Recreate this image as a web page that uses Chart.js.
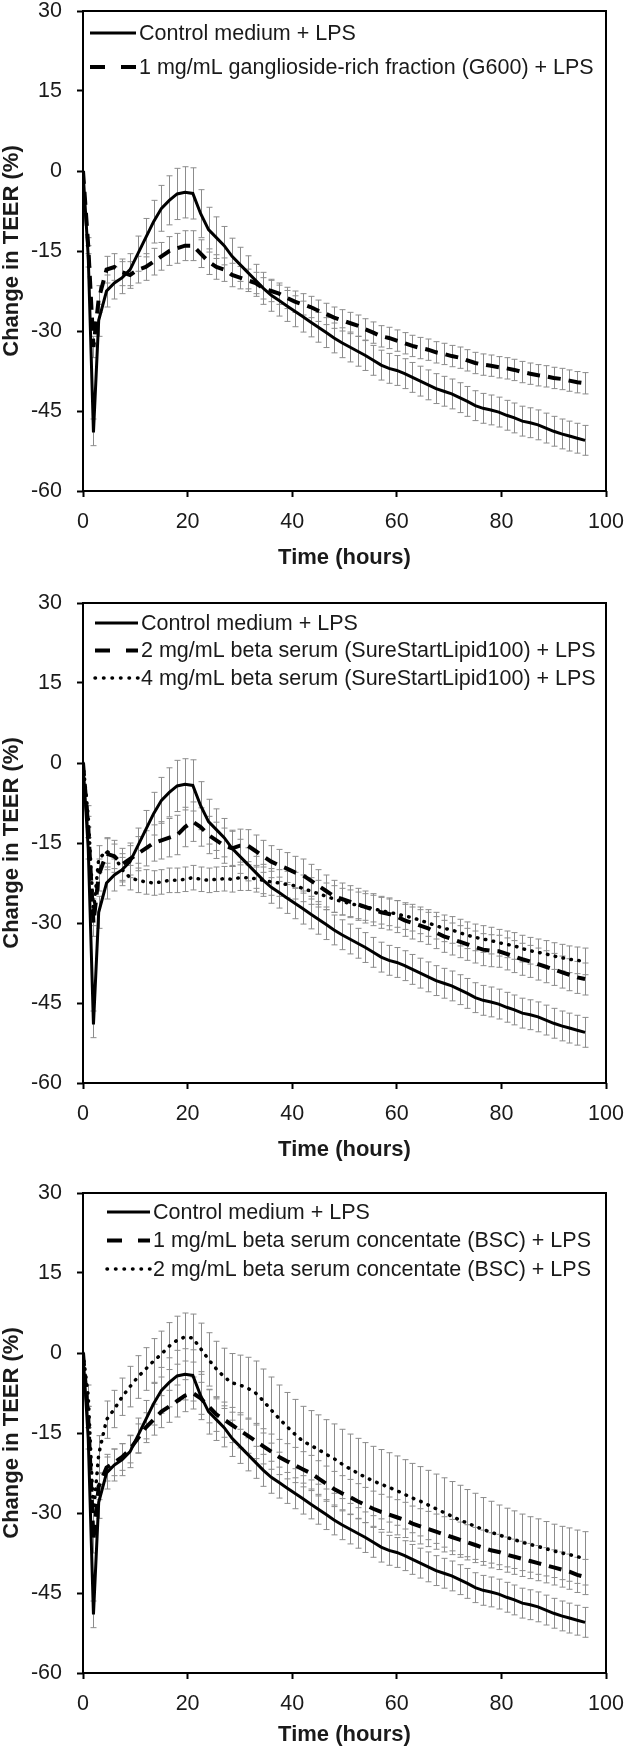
<!DOCTYPE html>
<html>
<head>
<meta charset="utf-8">
<script src="https://cdn.jsdelivr.net/npm/chart.js@4"></script>
<style>
  html, body { margin: 0; padding: 0; background: #fff; }
  #wrap { position: relative; width: 625px; height: 1748px; overflow: hidden; }
  canvas { position: absolute; left: 0; }
</style>
</head>
<body>
<div id="wrap">
  <canvas id="panel1" width="625" height="588" style="top:0px"></canvas>
  <canvas id="panel2" width="625" height="590" style="top:590px"></canvas>
  <canvas id="panel3" width="625" height="568" style="top:1180px"></canvas>
</div>
<script>
// time points (hours)
const times = [0, 1, 2, 3, 4.5, 6, 7.5, 9, 10.5, 12,
  13.5, 15, 16.5, 18, 19.5, 21, 22.5, 24, 25.5, 27,
  28.5, 30, 31.5, 33, 34.5, 36, 37.5, 39, 40.5, 42,
  43.5, 45, 46.5, 48, 49.5, 51, 52.5, 54, 55.5, 57,
  58.5, 60, 61.5, 63, 64.5, 66, 67.5, 69, 70.5, 72,
  73.5, 75, 76.5, 78, 79.5, 81, 82.5, 84, 85.5, 87,
  88.5, 90, 91.5, 93, 94.5, 96];

const xTicks = [0, 20, 40, 60, 80, 100];
const yTicks = [-60, -45, -30, -15, 0, 15, 30];

// Control medium + LPS (same in all three panels)
const control = [0, -16, -49, -28, -22.5, -21, -20, -18.5, -15.5, -12.5,
  -9.5, -7, -5.5, -4.3, -4, -4.2, -8, -11, -12.5, -14,
  -16, -17.5, -19, -20.5, -22, -23.3, -24.3, -25.3, -26.3, -27.3,
  -28.3, -29.3, -30.3, -31.3, -32.2, -33, -33.8, -34.6, -35.5, -36.4,
  -37, -37.4, -38, -38.7, -39.4, -40.1, -40.8, -41.3, -41.8, -42.5,
  -43.2, -44, -44.5, -44.8, -45.2, -45.8, -46.3, -46.9, -47.2, -47.6,
  -48.2, -48.8, -49.3, -49.7, -50.1, -50.5];
const controlErr = [0, 2, 2.5, 3, 3, 3, 3, 3, 3.3, 3.6,
  4, 4.3, 4.6, 4.8, 4.8, 4.8, 4.5, 4.2, 3.9, 3.6,
  3.4, 3.2, 3.1, 3, 3, 3, 2.9, 2.9, 2.9, 2.9,
  2.8, 2.8, 2.8, 2.8, 2.8, 2.8, 2.8, 2.8, 2.8, 2.8,
  2.8, 2.8, 2.8, 2.8, 2.8, 2.8, 2.8, 2.8, 2.8, 2.8,
  2.8, 2.8, 2.8, 2.8, 2.8, 2.8, 2.8, 2.8, 2.8, 2.8,
  2.8, 2.8, 2.8, 2.8, 2.8, 2.8];

// 1 mg/mL G600
const g600 = [0, -14, -33, -24, -18.5, -18, -19, -19.5, -18.5, -18,
  -17, -16, -15, -14.5, -14, -14, -15.5, -17, -18, -18.5,
  -19.5, -20, -20.5, -21, -22, -22.5, -23, -23.8, -24.5, -25,
  -25.5, -26.2, -26.8, -27.5, -28, -28.5, -29, -29.7, -30.3, -31,
  -31.3, -31.8, -32.3, -32.8, -33.2, -33.5, -34, -34.3, -34.7, -35,
  -35.5, -36, -36.3, -36.5, -36.8, -37, -37.3, -37.7, -38, -38.3,
  -38.5, -38.8, -39, -39.3, -39.6, -39.8];
const g600Err = [0, 1.5, 2, 2.5, 2.5, 2.5, 2.5, 2.5, 2.5, 2.5,
  2.5, 2.6, 2.7, 2.8, 2.8, 2.8, 2.6, 2.4, 2.3, 2.2,
  2.2, 2.1, 2.1, 2, 2, 2, 2, 2, 2, 2,
  2, 2, 2, 2, 2, 2, 2, 2, 2, 2,
  2, 2, 2, 2, 2, 2, 2, 2, 2, 2,
  2, 2, 2, 2, 2, 2, 2, 2, 2, 2,
  2, 2, 2, 2, 2, 2];

// 2 mg/mL SureStartLipid100
const ssl2 = [0, -12, -30, -21, -17, -17.5, -19, -18, -17, -16,
  -15, -14.5, -14, -13.5, -12, -11, -12, -13.5, -14.5, -15.5,
  -16, -15.5, -15.5, -16.5, -17.5, -18.5, -19.2, -19.8, -20.5, -21,
  -22, -23, -24, -25, -25.5, -26, -26.5, -27, -27.5, -28,
  -28.3, -28.8, -29.5, -30, -30.5, -31, -31.8, -32.5, -33, -33.5,
  -34, -34.5, -35, -35.2, -35.3, -35.8, -36.3, -36.8, -37.2, -37.7,
  -38.2, -38.7, -39.2, -39.7, -40.2, -40.5];
const ssl2Err = [0, 2, 2.5, 3, 3, 3, 3, 3, 3.2, 3.3,
  3.4, 3.5, 3.6, 3.7, 3.7, 3.7, 3.6, 3.5, 3.4, 3.3,
  3.2, 3.1, 3, 3, 3, 3, 3, 3, 3, 3,
  3, 3, 3, 3, 3, 3, 3, 3, 3, 3,
  3, 3, 3, 3, 3, 3, 3, 3, 3, 3,
  3, 3, 3, 3, 3, 3, 3, 3, 3, 3,
  3, 3, 3, 3, 3, 3];

// 4 mg/mL SureStartLipid100
const ssl4 = [0, -10, -28, -18, -16.5, -17.5, -20, -21.5, -22, -22.3,
  -22.5, -22.3, -22, -22, -21.8, -21.5, -21.8, -22, -21.8, -21.7,
  -21.8, -21.5, -21.5, -21.7, -22, -22.3, -22.5, -22.8, -23, -23.5,
  -24, -24.5, -25, -25.5, -26, -26.3, -26.7, -27, -27.3, -27.7,
  -28, -28.3, -28.7, -29, -29.5, -30, -30.5, -31, -31.3, -31.8,
  -32.3, -32.7, -33, -33.3, -33.7, -34, -34.3, -34.8, -35.2, -35.5,
  -35.8, -36.2, -36.5, -36.8, -37, -37.2];
const ssl4Err = [0, 2, 2.5, 2.5, 2.3, 2.3, 2.3, 2.3, 2.3, 2.3,
  2.3, 2.3, 2.3, 2.3, 2.3, 2.3, 2.3, 2.3, 2.3, 2.3,
  2.4, 2.4, 2.4, 2.5, 2.5, 2.5, 2.5, 2.5, 2.5, 2.5,
  2.5, 2.5, 2.5, 2.5, 2.5, 2.5, 2.5, 2.5, 2.5, 2.5,
  2.5, 2.5, 2.5, 2.5, 2.5, 2.5, 2.5, 2.5, 2.5, 2.5,
  2.5, 2.5, 2.5, 2.5, 2.5, 2.5, 2.5, 2.5, 2.5, 2.5,
  2.5, 2.5, 2.5, 2.5, 2.5, 2.5];

// 1 mg/mL BSC
const bsc1 = [0, -12, -35, -25, -21.5, -20.5, -19.5, -18, -16, -14,
  -12.5, -11, -10, -9, -8, -7.5, -8.5, -10, -11.5, -12.5,
  -13.5, -14.5, -15.5, -16.5, -17.5, -18.5, -19.5, -20.3, -21, -21.8,
  -22.5, -23.5, -24.5, -25.5, -26.3, -27, -27.8, -28.5, -29.2, -29.8,
  -30.3, -30.8, -31.3, -32, -32.5, -33, -33.5, -34, -34.5, -35,
  -35.5, -36, -36.5, -37, -37.3, -37.8, -38.2, -38.6, -39, -39.4,
  -39.8, -40.2, -40.6, -41, -41.6, -42];
const bsc1Err = [0, 2, 2.5, 2.5, 2.5, 2.5, 2.5, 2.6, 2.7, 2.8,
  2.9, 3, 3, 3, 3, 3, 3, 3.1, 3.2, 3.3,
  3.3, 3.3, 3.3, 3.3, 3.3, 3.3, 3.3, 3.3, 3.3, 3.3,
  3.3, 3.3, 3.3, 3.3, 3.3, 3.3, 3.3, 3.3, 3.3, 3.3,
  3.3, 3.3, 3.3, 3.3, 3.3, 3.3, 3.3, 3.3, 3.3, 3.3,
  3.3, 3.3, 3.3, 3.3, 3.3, 3.3, 3.3, 3.3, 3.3, 3.3,
  3.3, 3.3, 3.3, 3.3, 3.3, 3.3];

// 2 mg/mL BSC
const bsc2 = [0, -8, -30, -19, -12.5, -10.5, -8.2, -6.3, -4.5, -3,
  -1.5, -0.2, 1.3, 2.4, 3, 2.8, 0.8, -1.2, -3, -4.5,
  -5.6, -6, -6.6, -7.5, -9, -10.7, -12.3, -13.8, -15.2, -16.5,
  -17.3, -18.1, -19, -19.8, -20.8, -21.7, -22.5, -23.3, -24, -24.6,
  -25.2, -25.8, -26.5, -27.2, -27.8, -28.5, -29.2, -29.9, -30.6, -31.3,
  -31.9, -32.5, -33.1, -33.6, -34.1, -34.6, -35, -35.5, -35.9, -36.3,
  -36.7, -37.1, -37.5, -37.8, -38.2, -38.5];
const bsc2Err = [0, 2, 3, 3.5, 3.5, 3.5, 3.5, 3.8, 4, 4,
  4.2, 4.3, 4.4, 4.5, 4.5, 4.5, 4.8, 5, 5.2, 5.4,
  5.5, 5.6, 5.8, 6, 6, 6.2, 6.3, 6.4, 6.5, 6.5,
  6.5, 6.5, 6.5, 6.5, 6.5, 6.5, 6.5, 6.5, 6.5, 6.5,
  6.5, 6.5, 6.5, 6.5, 6.5, 6.5, 6.5, 6.5, 6.5, 6.5,
  6.3, 6.2, 6, 5.8, 5.6, 5.5, 5.4, 5.3, 5.2, 5.2,
  5.1, 5, 5, 5, 5, 5];

const labelControl = 'Control medium + LPS';
const labelG600 = '1 mg/mL ganglioside-rich fraction (G600) + LPS';
const labelSsl2 = '2 mg/mL beta serum (SureStartLipid100) + LPS';
const labelSsl4 = '4 mg/mL beta serum (SureStartLipid100) + LPS';
const labelBsc1 = '1 mg/mL beta serum concentate (BSC) + LPS';
const labelBsc2 = '2 mg/mL beta serum concentate (BSC) + LPS';

const FONT = "'Liberation Sans', Arial, sans-serif";
const TEXT = '#1a1a1a';

const lineStyles = {
  solid: { borderWidth: 3, borderDash: [], borderCapStyle: 'butt', legendDash: [] },
  dash:  { borderWidth: 4, borderDash: [13, 8], borderCapStyle: 'butt', legendDash: [15, 16] },
  dot:   { borderWidth: 3.5, borderDash: [0.5, 7.5], borderCapStyle: 'round', legendDash: [0.5, 8] }
};

// error bars drawn under the lines
const errorBars = {
  id: 'errorBars',
  beforeDatasetsDraw(chart) {
    const { ctx } = chart;
    const xs = chart.scales.x, ys = chart.scales.y;
    ctx.save();
    ctx.strokeStyle = '#8c8c8c';
    ctx.lineWidth = 1;
    chart.data.datasets.forEach(ds => {
      ds.data.forEach((p, i) => {
        const e = ds.errors[i];
        if (!e) return;
        const x = Math.round(xs.getPixelForValue(p.x)) + 0.5;
        const y1 = ys.getPixelForValue(p.y + e);
        const y2 = ys.getPixelForValue(p.y - e);
        ctx.beginPath();
        ctx.moveTo(x, y1); ctx.lineTo(x, y2);
        ctx.moveTo(x - 3, y1); ctx.lineTo(x + 3, y1);
        ctx.moveTo(x - 3, y2); ctx.lineTo(x + 3, y2);
        ctx.stroke();
      });
    });
    ctx.restore();
  }
};

const frameBox = {
  id: 'frameBox',
  afterDatasetsDraw(chart) {
    const { ctx, chartArea: a } = chart;
    ctx.save();
    ctx.strokeStyle = '#000';
    ctx.lineWidth = 2;
    ctx.strokeRect(a.left, a.top, a.right - a.left, a.bottom - a.top);
    ctx.restore();
  }
};

const insideLegend = {
  id: 'insideLegend',
  afterDraw(chart, args, o) {
    const { ctx, chartArea } = chart;
    ctx.save();
    chart.data.datasets.forEach((ds, i) => {
      const y = chartArea.top + o.y0 + i * o.gap;
      ctx.beginPath();
      ctx.strokeStyle = '#000';
      ctx.lineWidth = ds.borderWidth;
      ctx.lineCap = ds.borderCapStyle;
      ctx.setLineDash(ds.legendDash);
      ctx.moveTo(o.x, y);
      ctx.lineTo(o.x + o.len, y);
      ctx.stroke();
      ctx.setLineDash([]);
      ctx.fillStyle = TEXT;
      ctx.font = '21.5px ' + FONT;
      ctx.textBaseline = 'middle';
      ctx.fillText(ds.label, o.x + o.len + 3, y + 1);
    });
    ctx.restore();
  }
};

function makePanel(id, series, top, xAxisH, legend) {
  const canvas = document.getElementById(id);
  const h = canvas.height;
  const datasets = series.map(s => Object.assign({
    label: s.label,
    data: times.map((t, i) => ({ x: t, y: s.values[i] })),
    errors: s.errors,
    borderColor: '#000',
    pointRadius: 0,
    tension: 0,
    fill: false
  }, lineStyles[s.style]));

  new Chart(canvas.getContext('2d'), {
    type: 'line',
    data: { datasets },
    options: {
      responsive: false,
      animation: false,
      layout: { padding: { left: 0, right: 19, top: top, bottom: h - top - 480 - xAxisH } },
      plugins: {
        legend: { display: false },
        tooltip: { enabled: false },
        insideLegend: legend
      },
      scales: {
        x: {
          type: 'linear', min: 0, max: 100,
          afterBuildTicks: sc => { sc.ticks = xTicks.map(v => ({ value: v })); },
          afterFit: sc => { sc.height = xAxisH; sc.paddingLeft = 0; sc.paddingRight = 0; },
          grid: { drawOnChartArea: false, drawTicks: true, tickLength: 6, tickWidth: 2, tickColor: '#000' },
          border: { display: false },
          ticks: { color: TEXT, padding: 14, maxRotation: 0, font: { family: FONT, size: 21.5, lineHeight: 1 } },
          title: { display: true, text: 'Time (hours)', color: TEXT, padding: 0,
                   font: { family: FONT, size: 22, weight: 'bold', lineHeight: 1.2 } }
        },
        y: {
          type: 'linear', min: -60, max: 30,
          afterBuildTicks: sc => { sc.ticks = yTicks.map(v => ({ value: v })); },
          afterFit: sc => { sc.width = 83; sc.paddingTop = 0; sc.paddingBottom = 0; },
          grid: { drawOnChartArea: false, drawTicks: true, tickLength: 6, tickWidth: 2, tickColor: '#000' },
          border: { display: false },
          ticks: { color: TEXT, padding: 15, font: { family: FONT, size: 21.5, lineHeight: 1 } },
          title: { display: true, text: 'Change in TEER (%)', color: TEXT, padding: 0,
                   font: { family: FONT, size: 22, weight: 'bold', lineHeight: 1.1 } }
        }
      }
    },
    plugins: [errorBars, frameBox, insideLegend]
  });
}

makePanel('panel1', [
  { label: labelControl, values: control, errors: controlErr, style: 'solid' },
  { label: labelG600, values: g600, errors: g600Err, style: 'dash' }
], 11, 80, { x: 90, y0: 22, gap: 34, len: 46 });

makePanel('panel2', [
  { label: labelControl, values: control, errors: controlErr, style: 'solid' },
  { label: labelSsl2, values: ssl2, errors: ssl2Err, style: 'dash' },
  { label: labelSsl4, values: ssl4, errors: ssl4Err, style: 'dot' }
], 13, 80, { x: 95, y0: 20, gap: 27.5, len: 43 });

makePanel('panel3', [
  { label: labelControl, values: control, errors: controlErr, style: 'solid' },
  { label: labelBsc1, values: bsc1, errors: bsc1Err, style: 'dash' },
  { label: labelBsc2, values: bsc2, errors: bsc2Err, style: 'dot' }
], 13, 75, { x: 107, y0: 19, gap: 28.5, len: 43 });
</script>
</body>
</html>
